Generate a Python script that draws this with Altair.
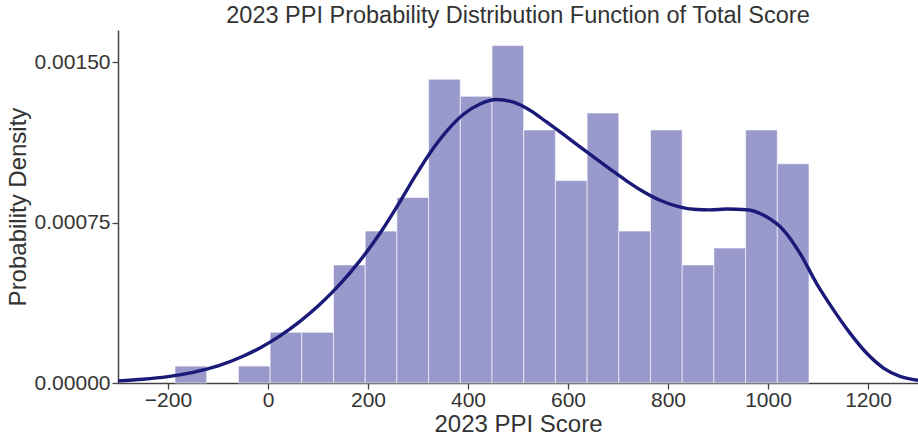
import altair as alt
import pandas as pd

# Histogram bins of the 2023 PPI total score (left and right edges) and their densities
bin_start = [-186.0, -122.6, -59.2, 4.2, 67.6, 131.0, 194.4, 257.8, 321.2, 384.6,
             448.0, 511.4, 574.8, 638.2, 701.6, 765.0, 828.4, 891.8, 955.2, 1018.6]
bin_end = [-122.6, -59.2, 4.2, 67.6, 131.0, 194.4, 257.8, 321.2, 384.6, 448.0,
           511.4, 574.8, 638.2, 701.6, 765.0, 828.4, 891.8, 955.2, 1018.6, 1082.0]
density = [0.000079, 0.0, 0.000079, 0.000237, 0.000237, 0.000552, 0.000710, 0.000867,
           0.001420, 0.001340, 0.001577, 0.001183, 0.000946, 0.001262, 0.000710,
           0.001183, 0.000552, 0.000631, 0.001183, 0.001025]

# Kernel density estimate curve
kde_x = [-300, -250, -200, -150, -100, -50, -16, 24, 64, 104, 144, 184, 224, 264, 295,
         324, 357, 391, 424, 457, 491, 524, 557, 591, 624, 651, 684, 717, 751, 784,
         817, 851, 884, 917, 957, 997, 1031, 1064, 1097, 1131, 1164, 1197, 1231,
         1264, 1300]
kde_y = [0.000010, 0.0000175, 0.000030, 0.000050, 0.000080, 0.000125, 0.000164,
         0.000220, 0.000288, 0.000368, 0.000462, 0.000572, 0.000700, 0.000848,
         0.000969, 0.001075, 0.001176, 0.001256, 0.001304, 0.001325, 0.001313,
         0.001275, 0.001220, 0.001162, 0.001104, 0.001057, 0.001000, 0.000945,
         0.000894, 0.000854, 0.000827, 0.000812, 0.000809, 0.000813, 0.000810,
         0.000777, 0.000715, 0.000606, 0.000466, 0.000342, 0.000233, 0.000140,
         0.000070, 0.000031, 0.000013]

x_ticks = [-200, 0, 200, 400, 600, 800, 1000, 1200]
y_ticks = [0.0, 0.00075, 0.0015]

FONT = "Liberation Sans"
TEXT = "#333333"

hist_df = pd.DataFrame({"start": bin_start, "end": bin_end, "density": density})
kde_df = pd.DataFrame({"score": kde_x, "pdf": kde_y})

x_scale = alt.Scale(domain=[-300, 1300], nice=False, zero=False)
y_scale = alt.Scale(domain=[0, 0.00165], nice=False)

x_axis = alt.Axis(values=x_ticks, format="d", grid=False, title="2023 PPI Score",
                  tickSize=6, labelPadding=0, titlePadding=2)
y_axis = alt.Axis(values=y_ticks, format=".5f", grid=False, title="Probability Density",
                  tickSize=6, labelPadding=2, titlePadding=4)

bars = alt.Chart(hist_df).transform_filter(alt.datum.density > 0).mark_bar(
    color="#9999cc", stroke="white", strokeWidth=1, strokeOpacity=0.6
).encode(
    x=alt.X("start:Q", scale=x_scale, axis=x_axis),
    x2="end:Q",
    y=alt.Y("density:Q", scale=y_scale, axis=y_axis),
    y2=alt.datum(0),
)

curve = alt.Chart(kde_df).mark_line(
    color="#1a1a78", strokeWidth=3.4, interpolate="monotone", clip=True
).encode(
    x=alt.X("score:Q", scale=x_scale),
    y=alt.Y("pdf:Q", scale=y_scale),
)

chart = alt.layer(bars, curve).properties(
    width=800,
    height=353,
    title=alt.Title("2023 PPI Probability Distribution Function of Total Score",
                    fontSize=23.5, font=FONT, color=TEXT, fontWeight="normal", offset=3),
    autosize=alt.AutoSizeParams(type="none"),
    padding={"left": 118, "top": 30, "right": 0, "bottom": 53},
    background="white",
).configure_view(
    stroke=None
).configure_axis(
    labelFont=FONT, titleFont=FONT, labelFontSize=21, titleFontSize=24,
    labelColor=TEXT, titleColor=TEXT, titleFontWeight="normal",
    domainColor="#444444", tickColor="#444444", domainWidth=1.5, tickWidth=1.3,
)

chart.save("out.html", embed_options={"renderer": "svg", "actions": False})
